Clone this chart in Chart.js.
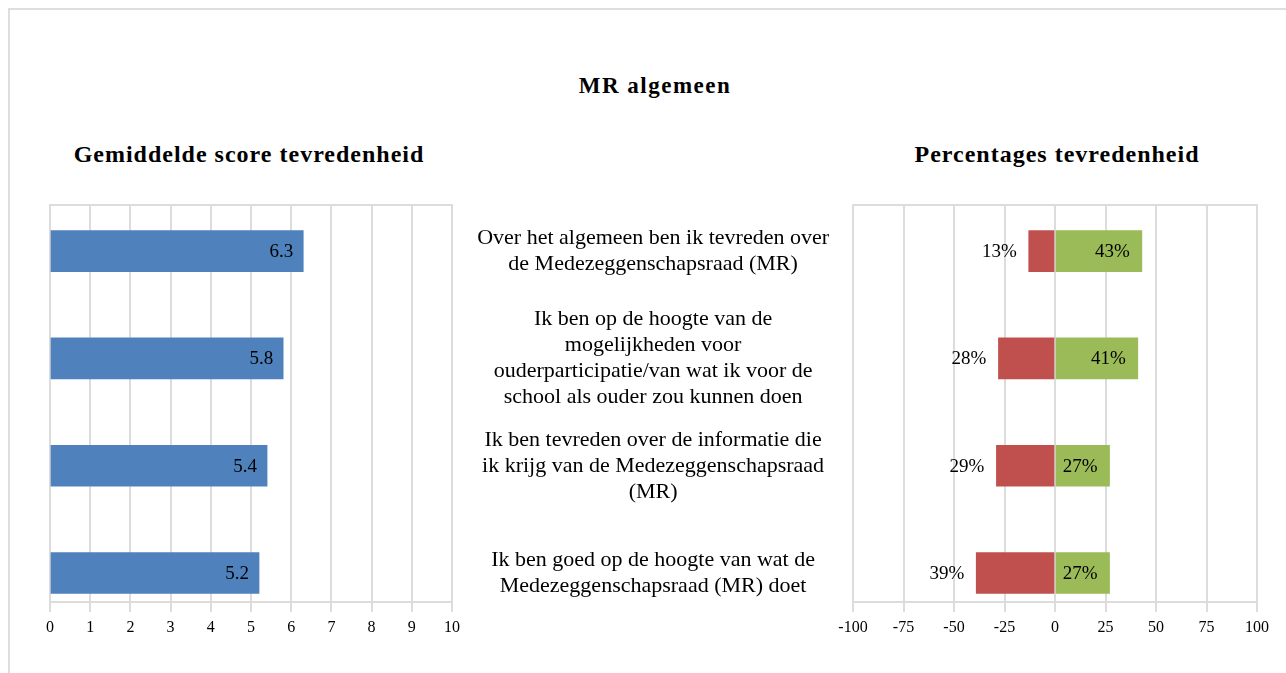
<!DOCTYPE html>
<html>
<head>
<meta charset="utf-8">
<script src="https://cdn.jsdelivr.net/npm/chart.js@4.4.1/dist/chart.umd.min.js"></script>
<style>
  body { margin: 0; background: #fff; width: 1286px; height: 673px; overflow: hidden; position: relative;
         font-family: 'Liberation Serif', 'Times New Roman', serif; }
  #frame { position: absolute; left: 8px; top: 8px; width: 1290px; height: 680px;
           border-top: 2px solid #dedede; border-left: 2px solid #dedede; }
  .ttl { position: absolute; width: 400px; font-weight: bold; text-align: center; line-height: 1;
         color: #000; white-space: nowrap; }
  #main { left: 455px; top: 74px; font-size: 23px; letter-spacing: 1.5px; }
  #sub1 { left: 49px; top: 142px; font-size: 24px; letter-spacing: 1px; }
  #sub2 { left: 857px; top: 142px; font-size: 24px; letter-spacing: 1px; }
  .box { position: absolute; }
  #leftBox { left: 40px; top: 195px; width: 430px; height: 460px; }
  #rightBox { left: 460px; top: 195px; width: 826px; height: 460px; }
</style>
</head>
<body>
<div id="frame"></div>
<div class="ttl" id="main">MR algemeen</div>
<div class="ttl" id="sub1">Gemiddelde score tevredenheid</div>
<div class="ttl" id="sub2">Percentages tevredenheid</div>
<div class="box" id="leftBox"><canvas id="scoreChart"></canvas></div>
<div class="box" id="rightBox"><canvas id="pctChart"></canvas></div>

<script>
// vragen (regels zoals in het origineel afgebroken)
const questions = [
  ['Over het algemeen ben ik tevreden over', 'de Medezeggenschapsraad (MR)'],
  ['Ik ben op de hoogte van de', 'mogelijkheden voor', 'ouderparticipatie/van wat ik voor de', 'school als ouder zou kunnen doen'],
  ['Ik ben tevreden over de informatie die', 'ik krijg van de Medezeggenschapsraad', '(MR)'],
  ['Ik ben goed op de hoogte van wat de', 'Medezeggenschapsraad (MR) doet']
];
const avgScore = [6.3, 5.8, 5.4, 5.2];
const pctUnhappy = [13, 28, 29, 39];
const pctHappy = [43, 41, 27, 27];
const scoreTicks = [0, 1, 2, 3, 4, 5, 6, 7, 8, 9, 10];
const pctTicks = [-100, -75, -50, -25, 0, 25, 50, 75, 100];

const serif = "'Liberation Serif', 'Times New Roman', serif";
const gridGrey = '#dcdcdc';

// tekst bij de balken
const barLabels = {
  id: 'barLabels',
  afterDatasetsDraw(chart) {
    const ctx = chart.ctx;
    ctx.save();
    ctx.font = '19px ' + serif;
    ctx.fillStyle = '#000';
    ctx.textAlign = 'right';
    ctx.textBaseline = 'middle';
    chart.data.datasets.forEach((ds, d) => {
      chart.getDatasetMeta(d).data.forEach((bar, i) => {
        let x;
        if (ds.labelOutside) {
          x = Math.min(bar.x, bar.base) - 12;
        } else {
          x = Math.max(bar.x, bar.base) - ds.labelPad;
        }
        ctx.fillText(ds.valueText[i], x, bar.y + 1);
      });
    });
    ctx.restore();
  }
};

function rowAxis(show) {
  return {
    type: 'linear',
    reverse: true,
    offset: false,
    min: -0.43,
    max: 3.27,
    display: show,
    afterBuildTicks: s => { s.ticks = questions.map((q, i) => ({ value: i })); },
    afterFit: s => {
      if (show) s.width = 383;
      s.paddingTop = 0;
      s.paddingBottom = 0;
    },
    grid: { display: false, drawTicks: false },
    border: { display: false },
    ticks: {
      autoSkip: false,
      crossAlign: 'center',
      padding: 24,
      color: '#000',
      font: { family: serif, size: 22, lineHeight: 26 / 22 },
      callback: v => questions[v]
    }
  };
}

function valueAxis(min, max, tickList) {
  return {
    type: 'linear',
    min: min,
    max: max,
    stacked: true,
    afterBuildTicks: s => { s.ticks = tickList.map(v => ({ value: v })); },
    afterFit: s => { s.height = 40; },
    grid: { color: gridGrey, lineWidth: 2, tickLength: 10 },
    border: { color: gridGrey, width: 2 },
    ticks: { color: '#000', padding: 6, maxRotation: 0, font: { family: serif, size: 16 },
             callback: v => String(v) }
  };
}

const topLine = {
  type: 'linear',
  position: 'top',
  grid: { display: false, drawTicks: false },
  ticks: { display: false },
  border: { color: gridGrey, width: 2 }
};

new Chart(document.getElementById('scoreChart'), {
  type: 'bar',
  data: {
    datasets: [{
      data: avgScore.map((v, i) => ({ x: v, y: i })),
      valueText: avgScore.map(v => v.toFixed(1)),
      labelPad: 10,
      backgroundColor: '#4F81BD',
      barThickness: 41
    }]
  },
  options: {
    indexAxis: 'y',
    responsive: true,
    maintainAspectRatio: false,
    animation: false,
    layout: { padding: { left: 10, right: 18, top: 10, bottom: 13 } },
    plugins: { legend: { display: false }, tooltip: { enabled: false } },
    scales: {
      x: valueAxis(0, 10, scoreTicks),
      xTop: topLine,
      y: rowAxis(false)
    }
  },
  plugins: [barLabels]
});

new Chart(document.getElementById('pctChart'), {
  type: 'bar',
  data: {
    datasets: [{
      data: pctUnhappy.map((v, i) => ({ x: -v, y: i })),
      valueText: pctUnhappy.map(v => v + '%'),
      labelOutside: true,
      backgroundColor: '#C0504D',
      barThickness: 41,
      stack: 'pct'
    }, {
      data: pctHappy.map((v, i) => ({ x: v, y: i })),
      valueText: pctHappy.map(v => v + '%'),
      labelPad: 12,
      backgroundColor: '#9BBB59',
      barThickness: 41,
      stack: 'pct'
    }]
  },
  options: {
    indexAxis: 'y',
    responsive: true,
    maintainAspectRatio: false,
    animation: false,
    layout: { padding: { left: 10, right: 29, top: 10, bottom: 13 } },
    plugins: { legend: { display: false }, tooltip: { enabled: false } },
    scales: {
      x: valueAxis(-100, 100, pctTicks),
      xTop: topLine,
      y: rowAxis(true)
    }
  },
  plugins: [barLabels]
});
</script>
</body>
</html>
